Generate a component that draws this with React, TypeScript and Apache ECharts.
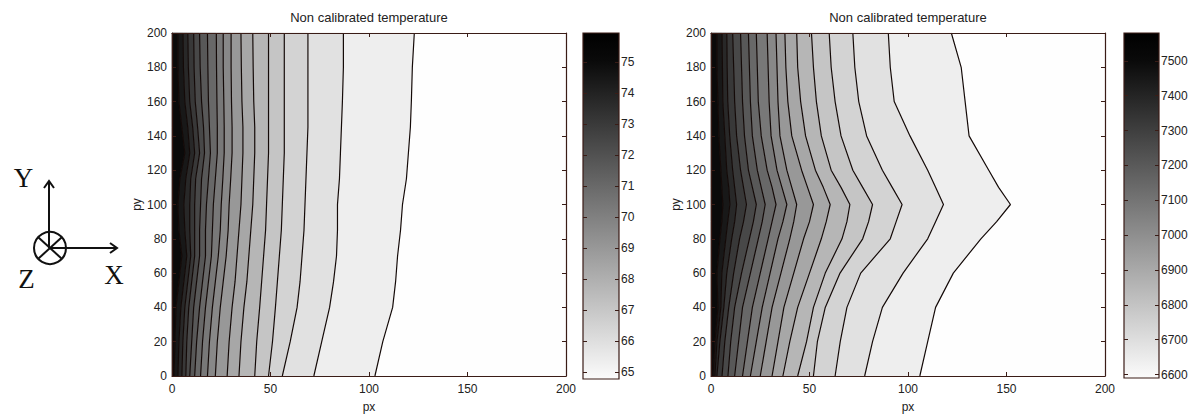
import React, { useEffect, useRef } from "react";
import * as echarts from "echarts";

// ---------- data ----------
const titleText = "Non calibrated temperature";
const xTicks = [0, 50, 100, 150, 200];
const yTicks = [0, 20, 40, 60, 80, 100, 120, 140, 160, 180, 200];

// left plot: contour x-positions (px) sampled at these py values
const leftY = [0, 20, 40, 55, 70, 85, 100, 115, 130, 145, 160, 180, 200];
const leftContours: number[][] = [
  [1.0, 1.5, 2.0, 3.5, 5.0, 3.5, 3.0, 4.0, 6.5, 5.0, 3.5, 3.0, 3.0],
  [3.0, 3.5, 4.5, 6.0, 7.5, 6.5, 6.0, 7.0, 9.0, 8.0, 6.5, 5.8, 5.6],
  [5.0, 5.5, 6.5, 8.0, 9.5, 9.0, 9.0, 9.5, 11.5, 10.5, 9.0, 8.3, 8.0],
  [7.0, 7.5, 8.5, 10.0, 11.5, 11.5, 11.5, 12.0, 14.0, 13.0, 11.8, 11.2, 11.0],
  [9.0, 10.0, 11.0, 12.5, 14.0, 14.0, 14.5, 15.0, 16.5, 16.0, 15.0, 14.3, 14.0],
  [11.5, 12.5, 14.0, 15.5, 17.0, 17.0, 17.5, 18.5, 19.5, 19.0, 18.5, 18.2, 18.0],
  [14.5, 15.5, 17.0, 18.5, 20.0, 20.5, 21.0, 22.0, 23.0, 23.0, 22.8, 22.6, 22.5],
  [18.0, 19.0, 20.5, 22.0, 23.5, 24.5, 25.0, 25.8, 26.5, 26.5, 26.3, 26.0, 26.0],
  [22.0, 23.0, 24.5, 26.0, 27.5, 28.5, 29.0, 29.8, 30.5, 30.5, 30.2, 30.0, 30.0],
  [28.0, 29.0, 30.5, 32.0, 33.0, 34.0, 35.0, 35.5, 36.0, 36.0, 35.5, 35.2, 35.0],
  [34.0, 35.0, 36.5, 38.0, 39.0, 40.0, 41.0, 41.5, 42.0, 42.0, 41.5, 41.2, 41.0],
  [42.0, 43.0, 44.5, 45.5, 46.5, 47.5, 48.0, 48.5, 49.0, 49.0, 49.0, 49.0, 49.0],
  [49.0, 51.0, 52.5, 53.5, 54.5, 55.5, 56.0, 56.5, 57.0, 57.0, 57.0, 57.0, 57.0],
  [56.0, 60.0, 63.5, 65.0, 66.0, 67.0, 67.5, 68.0, 68.5, 69.0, 69.0, 69.0, 69.0],
  [72.0, 76.0, 80.0, 82.0, 83.5, 84.0, 84.0, 85.0, 85.5, 86.0, 86.5, 87.0, 87.0],
  [103.0, 107.0, 112.0, 113.5, 114.5, 116.0, 117.0, 119.0, 120.0, 121.0, 121.5, 122.0, 123.0],
];

// right plot
const rightY = [0, 20, 40, 60, 80, 90, 100, 110, 120, 140, 160, 180, 200];
const rightContours: number[][] = [
  [1.0, 2.0, 3.5, 3.0, 4.5, 5.5, 6.0, 5.5, 5.0, 4.0, 3.5, 3.0, 3.0],
  [2.0, 3.0, 5.0, 5.5, 7.5, 8.5, 9.6, 9.0, 8.0, 7.0, 6.0, 5.8, 5.6],
  [3.0, 4.5, 6.5, 8.0, 10.5, 12.0, 13.0, 12.0, 11.0, 9.5, 8.5, 8.2, 8.0],
  [5.6, 7.0, 9.0, 11.5, 14.5, 16.5, 18.0, 16.5, 15.0, 13.0, 12.0, 11.5, 11.0],
  [8.6, 10.0, 12.0, 15.5, 19.5, 21.5, 23.0, 21.0, 19.0, 17.0, 16.0, 15.5, 15.0],
  [12.0, 14.0, 16.0, 20.0, 24.0, 26.0, 27.5, 25.5, 23.5, 21.0, 20.0, 19.5, 19.0],
  [16.0, 18.5, 21.0, 25.0, 29.0, 31.0, 33.0, 31.0, 28.5, 25.5, 24.0, 23.5, 23.0],
  [20.0, 23.0, 26.0, 30.0, 34.0, 36.5, 38.5, 36.0, 33.5, 30.5, 29.5, 29.0, 28.5],
  [25.0, 28.0, 31.0, 35.5, 40.0, 42.0, 43.5, 41.0, 38.5, 35.0, 34.0, 33.5, 33.0],
  [31.0, 34.0, 37.0, 42.0, 47.0, 50.0, 52.0, 49.0, 46.0, 41.0, 39.0, 38.0, 37.5],
  [36.5, 40.0, 44.0, 50.0, 56.0, 58.5, 60.5, 57.0, 53.0, 48.0, 45.5, 44.0, 43.5],
  [44.0, 48.5, 52.0, 58.0, 66.5, 69.0, 70.5, 66.0, 61.0, 56.0, 53.5, 52.0, 51.0],
  [52.0, 54.0, 58.0, 65.5, 77.0, 80.0, 82.0, 77.0, 72.0, 66.0, 63.0, 61.0, 60.0],
  [63.0, 65.6, 69.0, 76.0, 91.0, 94.0, 97.0, 92.0, 87.0, 79.0, 75.0, 73.0, 72.0],
  [78.0, 82.0, 87.0, 97.5, 110.0, 114.0, 118.0, 114.0, 110.0, 101.0, 93.0, 91.0, 90.0],
  [106.0, 110.0, 114.0, 123.0, 137.0, 145.0, 152.0, 146.0, 141.0, 131.0, 129.0, 127.0, 122.0],
];

// gray level of each filled band, from left of first contour to right of last
const bandGrays = [10, 24, 40, 56, 72, 88, 104, 120, 136, 152, 167, 182, 197, 211, 225, 238, 254];

const leftBarRange = [6477, 7594];
const leftBarTicks = [6500, 6600, 6700, 6800, 6900, 7000, 7100, 7200, 7300, 7400, 7500];
const rightBarRange = [6590, 7580];
const rightBarTicks = [6600, 6700, 6800, 6900, 7000, 7100, 7200, 7300, 7400, 7500];

// ---------- styles ----------
const frameColor = "#3a1c16";
const lineColor = "#140a08";
const textColor = "#222";
const font = "Liberation Sans";

const gridsPos = [
  { left: 172, top: 33, width: 394, height: 344 },
  { left: 711, top: 33, width: 394, height: 345 },
  { left: 583, top: 33, width: 36, height: 346 },
  { left: 1124, top: 33, width: 35, height: 345 },
];

function buildOption() {
  const axisLine = { show: true, onZero: false, lineStyle: { color: frameColor, width: 1.2 } };
  const tick = { show: true, inside: true, length: 4, lineStyle: { color: frameColor } };
  const label = { color: textColor, fontSize: 12, fontFamily: font };

  const xAxis: any[] = [];
  const yAxis: any[] = [];
  [0, 1].forEach((gi) => {
    xAxis.push({
      gridIndex: gi, type: "value", min: 0, max: 200, interval: 50, position: "bottom", z: 5,
      axisLine, axisTick: tick, axisLabel: { ...label, margin: 7 }, splitLine: { show: false },
      name: "px", nameLocation: "middle", nameGap: 25, nameTextStyle: { ...label },
    });
    xAxis.push({
      gridIndex: gi, type: "value", min: 0, max: 200, interval: 50, position: "top", z: 5,
      axisLine, axisTick: tick, axisLabel: { show: false }, splitLine: { show: false },
    });
    yAxis.push({
      gridIndex: gi, type: "value", min: 0, max: 200, interval: 20, position: "left", z: 5,
      axisLine, axisTick: tick, axisLabel: { ...label, margin: 5 }, splitLine: { show: false },
      name: "py", nameLocation: "middle", nameGap: 27, nameRotate: 90, nameTextStyle: { ...label },
    });
    yAxis.push({
      gridIndex: gi, type: "value", min: 0, max: 200, interval: 20, position: "right", z: 5,
      axisLine, axisTick: tick, axisLabel: { show: false }, splitLine: { show: false },
    });
  });
  // colorbar axes
  const bars = [
    { gi: 2, range: leftBarRange, ticks: leftBarTicks, fmt: (v: number) => String(Math.round(v / 100)) },
    { gi: 3, range: rightBarRange, ticks: rightBarTicks, fmt: (v: number) => String(v) },
  ];
  bars.forEach((b) => {
    xAxis.push({ gridIndex: b.gi, type: "value", min: 0, max: 1, show: false });
    yAxis.push({
      gridIndex: b.gi, type: "value", min: b.range[0], max: b.range[1], position: "left", z: 5,
      axisLine: { show: false }, axisTick: { ...tick, customValues: b.ticks }, axisLabel: { show: false },
      splitLine: { show: false },
    });
    yAxis.push({
      gridIndex: b.gi, type: "value", min: b.range[0], max: b.range[1], position: "right", z: 5,
      axisLine: { show: false }, axisTick: { ...tick, customValues: b.ticks },
      axisLabel: { ...label, margin: 2, customValues: b.ticks, formatter: b.fmt },
      splitLine: { show: false },
    });
  });

  const series: any[] = [];
  const plots = [
    { xi: 0, yi: 0, ys: leftY, cs: leftContours },
    { xi: 2, yi: 2, ys: rightY, cs: rightContours },
  ];
  plots.forEach((p) => {
    series.push({
      type: "custom", xAxisIndex: p.xi, yAxisIndex: p.yi, silent: true, z: 2,
      data: bandGrays.map((_, i) => [i]),
      renderItem: (params: any, api: any) => {
        const i = api.value(0);
        const lb = i === 0 ? p.ys.map(() => 0) : p.cs[i - 1];
        const rb = i === p.cs.length ? p.ys.map(() => 200) : p.cs[i];
        const pts: number[][] = [];
        p.ys.forEach((y, j) => pts.push(api.coord([lb[j], y])));
        for (let j = p.ys.length - 1; j >= 0; j--) pts.push(api.coord([rb[j], p.ys[j]]));
        const g = bandGrays[i];
        const c = `rgb(${g},${g},${g})`;
        return { type: "polygon", shape: { points: pts }, style: { fill: c, stroke: c, lineWidth: 0.6 } };
      },
    });
    p.cs.forEach((c) => {
      series.push({
        type: "line", xAxisIndex: p.xi, yAxisIndex: p.yi, silent: true, z: 3,
        symbol: "none", showSymbol: false,
        lineStyle: { color: lineColor, width: 1.2 },
        data: p.ys.map((y, j) => [c[j], y]),
      });
    });
  });
  // colorbar gradients
  [
    { xi: 4, yi: 5, range: leftBarRange },
    { xi: 5, yi: 7, range: rightBarRange },
  ].forEach((b) => {
    series.push({
      type: "custom", xAxisIndex: b.xi, yAxisIndex: b.yi, silent: true, z: 2,
      data: [[0]],
      renderItem: (params: any, api: any) => {
        const tl = api.coord([0, b.range[1]]);
        const br = api.coord([1, b.range[0]]);
        return {
          type: "rect",
          shape: { x: tl[0], y: tl[1], width: br[0] - tl[0], height: br[1] - tl[1] },
          style: {
            fill: new echarts.graphic.LinearGradient(0, 0, 0, 1, [
              { offset: 0, color: "#000" },
              { offset: 0.08, color: "#0a0a0a" },
              { offset: 1, color: "#fbfbfb" },
            ]),
            stroke: frameColor, lineWidth: 1.2,
          },
        };
      },
    });
  });

  const serif = "Liberation Serif";
  const graphic: any[] = [
    { type: "text", x: 369, y: 17, style: { text: titleText, fill: textColor, font: `13px '${font}'`, textAlign: "center", textVerticalAlign: "middle" } },
    { type: "text", x: 908, y: 17, style: { text: titleText, fill: textColor, font: `13px '${font}'`, textAlign: "center", textVerticalAlign: "middle" } },
    { type: "circle", shape: { cx: 50, cy: 248, r: 16 }, style: { fill: "none", stroke: "#111", lineWidth: 2 } },
    { type: "line", shape: { x1: 38.5, y1: 237.5, x2: 61.5, y2: 258.5 }, style: { stroke: "#111", lineWidth: 2 } },
    { type: "line", shape: { x1: 61.5, y1: 237.5, x2: 38.5, y2: 258.5 }, style: { stroke: "#111", lineWidth: 2 } },
    { type: "line", shape: { x1: 49, y1: 248, x2: 49, y2: 181 }, style: { stroke: "#111", lineWidth: 2 } },
    { type: "polyline", shape: { points: [[44, 188], [49, 181], [54, 188]] }, style: { stroke: "#111", lineWidth: 2, fill: "none" } },
    { type: "line", shape: { x1: 50, y1: 248, x2: 117, y2: 248 }, style: { stroke: "#111", lineWidth: 2 } },
    { type: "polyline", shape: { points: [[110, 243], [117, 248], [110, 253]] }, style: { stroke: "#111", lineWidth: 2, fill: "none" } },
    { type: "text", x: 23.5, y: 178, style: { text: "Y", fill: "#111", font: `27px '${serif}'`, textAlign: "center", textVerticalAlign: "middle" } },
    { type: "text", x: 26.5, y: 279, style: { text: "Z", fill: "#111", font: `27px '${serif}'`, textAlign: "center", textVerticalAlign: "middle" } },
    { type: "text", x: 114, y: 275, style: { text: "X", fill: "#111", font: `27px '${serif}'`, textAlign: "center", textVerticalAlign: "middle" } },
  ];

  return {
    animation: false,
    backgroundColor: "#ffffff",
    grid: gridsPos.map((g) => ({ ...g, containLabel: false })),
    xAxis,
    yAxis,
    series,
    graphic,
  };
}

export default function App() {
  const ref = useRef<HTMLDivElement>(null);
  useEffect(() => {
    if (!ref.current) return;
    const chart = echarts.init(ref.current, undefined, { renderer: "svg" });
    chart.setOption(buildOption() as any);
    return () => chart.dispose();
  }, []);
  return (
    <div
      ref={ref}
      style={{ position: "absolute", left: 0, top: 0, width: 1197, height: 418 }}
    />
  );
}
